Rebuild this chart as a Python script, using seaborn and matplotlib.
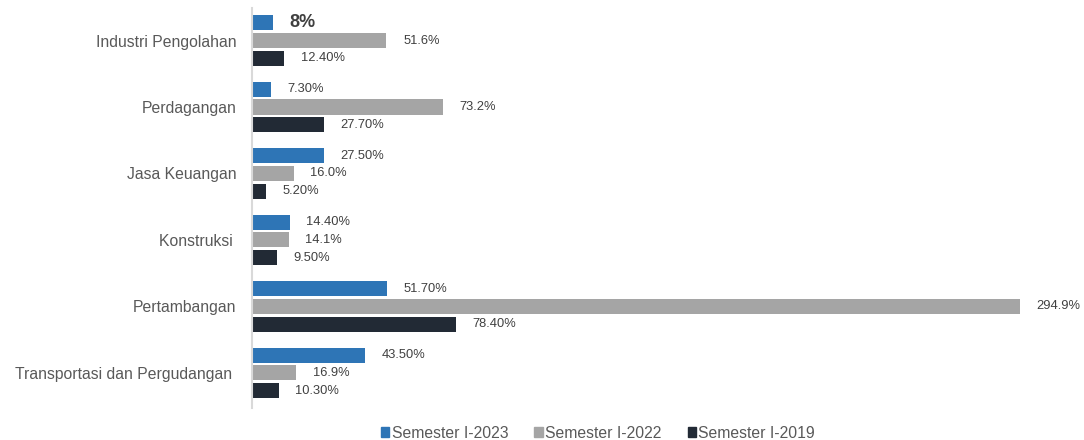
import numpy as np
import pandas as pd
import seaborn as sns
from matplotlib import pyplot as plt
from matplotlib.patches import Patch

categories = ["Industri Pengolahan", "Perdagangan", "Jasa Keuangan", "Konstruksi ",
              "Pertambangan", "Transportasi dan Pergudangan "]
series = ["Semester I-2023", "Semester I-2022", "Semester I-2019"]
val_2023 = [8.0, 7.3, 27.5, 14.4, 51.7, 43.5]
val_2022 = [51.6, 73.2, 16.0, 14.1, 294.9, 16.9]
val_2019 = [12.4, 27.7, 5.2, 9.5, 78.4, 10.3]
lab_2023 = ["8%", "7.30%", "27.50%", "14.40%", "51.70%", "43.50%"]
lab_2022 = ["51.6%", "73.2%", "16.0%", "14.1%", "294.9%", "16.9%"]
lab_2019 = ["12.40%", "27.70%", "5.20%", "9.50%", "78.40%", "10.30%"]
colors = ["#2E75B6", "#A5A5A5", "#222A35"]

df = pd.DataFrame({
    "cat": categories * 3,
    "series": [s for s in series for _ in categories],
    "val": val_2023 + val_2022 + val_2019,
})

sns.set_style("white")
plt.rcParams['font.family'] = ['Liberation Sans', 'DejaVu Sans']

fig = plt.figure(figsize=(10.84, 4.4), dpi=100)
ax = fig.add_axes([252 / 1084, 1 - 408 / 440, 798 / 1084, 400 / 440])
sns.barplot(data=df, y="cat", x="val", hue="series", order=categories, hue_order=series,
            palette=colors, orient="h", width=0.8, gap=0.15, legend=False, ax=ax,
            saturation=1, linewidth=0)

ax.set_xlim(0, 306.4)
ax.set_ylim(5.53, -0.49)
ax.set_xlabel("")
ax.set_ylabel("")
ax.set_xticks([])
ax.tick_params(axis="y", length=0, pad=11, labelsize=11.3, labelcolor="#595959")
for side in ["top", "right", "bottom"]:
    ax.spines[side].set_visible(False)
ax.spines["left"].set_color("#D9D9D9")
ax.spines["left"].set_linewidth(1.5)

for cont, labs in zip(ax.containers, [lab_2023, lab_2022, lab_2019]):
    texts = ax.bar_label(cont, labels=labs, padding=12, fontsize=9.3, color="#404040")
    if labs is lab_2023:
        texts[0].set_fontsize(13)
        texts[0].set_fontweight("bold")

handles = [Patch(color=c, label=s) for c, s in zip(colors, series)]
leg = fig.legend(handles=handles, loc="center", bbox_to_anchor=(598 / 1084, 1 - 433 / 440),
                 ncol=3, frameon=False, fontsize=11.3, handlelength=0.55, handleheight=0.55,
                 handletextpad=0.15, columnspacing=1.65)
for t in leg.get_texts():
    t.set_color("#595959")

fig.savefig("out.png", dpi=100)
